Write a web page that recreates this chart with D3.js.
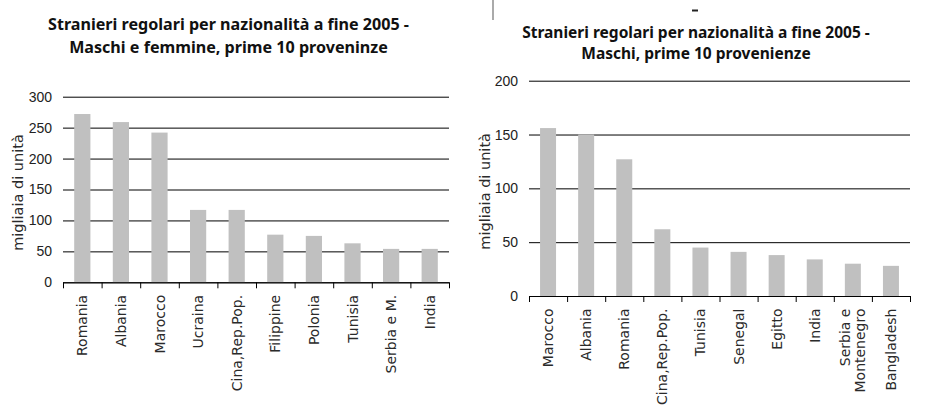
<!DOCTYPE html>
<html>
<head>
<meta charset="utf-8">
<script src="https://cdn.jsdelivr.net/npm/d3@7"></script>
<style>
  html, body { margin: 0; padding: 0; background: #fff; }
  svg { display: block; }
  .title { font-family: "Noto Sans", "DejaVu Sans", sans-serif; font-weight: bold; fill: #111; }
  .tick-label { font-family: "Liberation Sans", Arial, sans-serif; font-size: 14px; fill: #222; }
  .cat-label { font-family: "DejaVu Sans", Verdana, sans-serif; font-size: 14px; fill: #2a2a2a; }
  .y-title { font-family: "DejaVu Sans", Verdana, sans-serif; font-size: 14.5px; fill: #2a2a2a; }
</style>
</head>
<body>
<svg id="chart" width="930" height="410"></svg>
<script>
// Stranieri regolari al 31/12/2005 (migliaia di unità)
const titleTotale = ["Stranieri regolari per nazionalità a fine 2005 -", "Maschi e femmine, prime 10 proveninze"];
const paesiTotale = ["Romania", "Albania", "Marocco", "Ucraina", "Cina,Rep.Pop.", "Filippine", "Polonia", "Tunisia", "Serbia e M.", "India"];
const valoriTotale = [272, 259, 242, 117, 117, 77, 75, 63, 54, 54];
const ticksTotale = [0, 50, 100, 150, 200, 250, 300];

const titleMaschi = ["Stranieri regolari per nazionalità a fine 2005 -", "Maschi, prime 10 provenienze"];
const paesiMaschi = ["Marocco", "Albania", "Romania", "Cina,Rep.Pop.", "Tunisia", "Senegal", "Egitto", "India", "Serbia e\nMontenegro", "Bangladesh"];
const valoriMaschi = [156, 150, 127, 62, 45, 41, 38, 34, 30, 28];
const ticksMaschi = [0, 50, 100, 150, 200];

const yTitle = "migliaia di unità";

const svg = d3.select("#chart");

function drawPanel(cfg) {
  const g = svg.append("g");
  const n = cfg.categories.length;

  const x = d3.scaleBand().domain(cfg.categories).range([cfg.x0, cfg.x1]).padding(0);
  const y = d3.scaleLinear().domain([0, cfg.ticks[cfg.ticks.length - 1]]).range([cfg.y0, cfg.y1]);

  // horizontal gridlines with value labels
  const yAxis = g.append("g")
    .attr("transform", `translate(${cfg.x0},0)`)
    .call(d3.axisLeft(y).tickValues(cfg.ticks).tickSize(-(cfg.x1 - cfg.x0)).tickPadding(11).tickFormat(d3.format("d")));
  yAxis.select(".domain").remove();
  yAxis.selectAll(".tick line").attr("stroke", "#000").attr("stroke-width", 1);
  yAxis.selectAll(".tick text").attr("class", "tick-label").attr("fill", null);

  // bars
  const barW = x.bandwidth() * 0.42;
  g.append("g").selectAll("rect")
    .data(cfg.values)
    .join("rect")
    .attr("x", (d, i) => x(cfg.categories[i]) + (x.bandwidth() - barW) / 2)
    .attr("y", d => y(d))
    .attr("width", barW)
    .attr("height", d => y(0) - y(d))
    .attr("fill", "#c0c0c0");

  // category axis with ticks between bars
  const idx = d3.scaleLinear().domain([0, n]).range([cfg.x0, cfg.x1]);
  const xAxis = g.append("g")
    .attr("transform", `translate(0,${cfg.y0})`)
    .call(d3.axisBottom(idx).tickValues(d3.range(n + 1)).tickSize(6).tickSizeOuter(0).tickFormat(""));
  xAxis.select(".domain").attr("stroke", "#000");
  xAxis.selectAll(".tick line").attr("stroke", "#000");

  // rotated category labels
  const lineH = 15;
  cfg.categories.forEach(c => {
    const lines = c.split("\n");
    const cx = x(c) + x.bandwidth() / 2;
    lines.forEach((ln, k) => {
      const off = (k - (lines.length - 1) / 2) * lineH;
      g.append("text")
        .attr("class", "cat-label")
        .attr("transform", `translate(${cx + off},${cfg.y0 + 12.5}) rotate(-90)`)
        .attr("text-anchor", "end")
        .attr("dy", "0.36em")
        .text(ln);
    });
  });

  // axis title
  g.append("text")
    .attr("class", "y-title")
    .attr("transform", `translate(${cfg.yTitleX},${(cfg.y0 + cfg.y1) / 2 + 3}) rotate(-90)`)
    .attr("text-anchor", "middle")
    .attr("dy", "0.36em")
    .text(yTitle);

  // two-line title, sized to its box
  const t1 = g.append("text").attr("class", "title").attr("text-anchor", "middle")
    .attr("x", cfg.titleX).attr("y", cfg.titleY).style("font-size", "14px").text(cfg.title[0]);
  const w = t1.node().getComputedTextLength();
  const fs = 14 * cfg.titleW / w;
  t1.style("font-size", fs + "px");
  g.append("text").attr("class", "title").attr("text-anchor", "middle")
    .attr("x", cfg.titleX).attr("y", cfg.titleY + cfg.titleGap).style("font-size", fs + "px").text(cfg.title[1]);
}

drawPanel({
  categories: paesiTotale, values: valoriTotale, ticks: ticksTotale, title: titleTotale,
  x0: 63, x1: 449, y0: 282.3, y1: 96.7,
  yTitleX: 17.5, titleX: 228.5, titleY: 30, titleGap: 23, titleW: 361
});

drawPanel({
  categories: paesiMaschi, values: valoriMaschi, ticks: ticksMaschi, title: titleMaschi,
  x0: 529, x1: 910, y0: 296, y1: 80.7,
  yTitleX: 485, titleX: 696, titleY: 38, titleGap: 21, titleW: 348
});

// small marks along the top edge of the right panel
svg.append("line").attr("x1", 493).attr("x2", 493).attr("y1", 0).attr("y2", 20)
  .attr("stroke", "#aaa").attr("stroke-width", 2);
svg.append("line").attr("x1", 692).attr("x2", 698).attr("y1", 10.5).attr("y2", 10.5)
  .attr("stroke", "#222").attr("stroke-width", 2);
</script>
</body>
</html>
